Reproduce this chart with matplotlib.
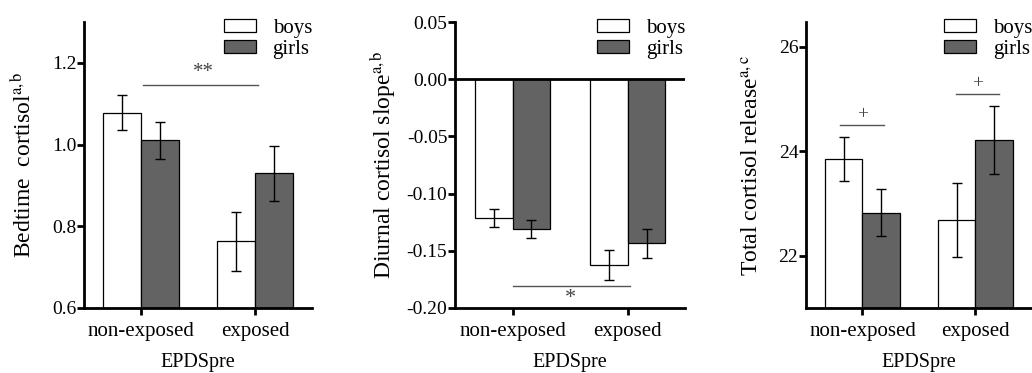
import matplotlib
matplotlib.use("Agg")
import matplotlib.pyplot as plt
import numpy as np
from matplotlib.patches import Patch

plt.rcParams['font.family'] = ['Liberation Serif', 'DejaVu Serif']
plt.rcParams['mathtext.fontset'] = 'stix'
plt.rcParams['axes.unicode_minus'] = False

groups = ["non-exposed", "exposed"]
sexes = ["boys", "girls"]

# bedtime cortisol
bed_boys = [1.078, 0.763]
bed_boys_err = [0.043, 0.072]
bed_girls = [1.010, 0.930]
bed_girls_err = [0.046, 0.067]

# diurnal slope
slope_boys = [-0.1215, -0.1625]
slope_boys_err = [0.008, 0.013]
slope_girls = [-0.131, -0.1435]
slope_girls_err = [0.008, 0.0125]

# total release
total_boys = [23.85, 22.68]
total_boys_err = [0.43, 0.71]
total_girls = [22.82, 24.22]
total_girls_err = [0.45, 0.65]

girl_col = "#636363"
xfs = 15
yfs = 14
lfs = 17

fig = plt.figure(figsize=(10.32, 3.73), dpi=100)
ax1 = fig.add_axes([0.0814, 0.1743, 0.2209, 0.7667])
ax2 = fig.add_axes([0.4409, 0.1743, 0.2229, 0.7667])
ax3 = fig.add_axes([0.781, 0.1743, 0.219, 0.7667])

x = np.arange(len(groups))
w = 0.33


def draw(ax, boys, berr, girls, gerr, bottom=0):
    bb = np.array(boys) - bottom
    gg = np.array(girls) - bottom
    ax.bar(x - w / 2, bb, w, bottom=bottom, color="white", edgecolor="black", linewidth=0.9)
    ax.bar(x + w / 2, gg, w, bottom=bottom, color=girl_col, edgecolor="black", linewidth=0.9)
    ax.errorbar(x - w / 2, boys, yerr=berr, fmt="none", ecolor="black", elinewidth=1, capsize=3.5, capthick=1)
    ax.errorbar(x + w / 2, girls, yerr=gerr, fmt="none", ecolor="black", elinewidth=1, capsize=3.5, capthick=1)
    ax.set_xlim(-0.5, 1.5)
    ax.set_xticks(x)
    ax.set_xticklabels(groups, fontsize=xfs)
    ax.set_xlabel("EPDSpre", fontsize=14.5, labelpad=9)
    for s in ["top", "right"]:
        ax.spines[s].set_visible(False)
    for s in ["left", "bottom"]:
        ax.spines[s].set_linewidth(2)
    ax.tick_params(axis="both", width=2, length=5, direction="out")
    ax.tick_params(axis="x", pad=5, labelsize=xfs)
    ax.tick_params(axis="y", pad=0.5, labelsize=yfs)
    handles = [Patch(facecolor="white", edgecolor="black", linewidth=0.9),
               Patch(facecolor=girl_col, edgecolor="black", linewidth=0.9)]
    ax.legend(handles, sexes, loc="upper right", bbox_to_anchor=(1.0, 1.012), frameon=False,
              fontsize=xfs, handlelength=1.55, handleheight=0.62, handletextpad=0.8,
              labelspacing=0.1, borderaxespad=0, borderpad=0)


# panel 1
draw(ax1, bed_boys, bed_boys_err, bed_girls, bed_girls_err, bottom=0.6)
ax1.set_ylim(0.6, 1.3)
ax1.set_yticks([0.6, 0.8, 1.0, 1.2])
ax1.set_yticklabels(["0.6", "0.8", "1.0", "1.2"])
ax1.set_ylabel(r"Bedtime  cortisol$^{\mathrm{a,b}}$", fontsize=lfs, va="center")
ax1.yaxis.set_label_coords(-0.265, 0.5)
ax1.plot([0.02, 1.03], [1.146, 1.146], color="#555555", linewidth=1)
ax1.text(0.55, 1.152, "**", ha="center", va="bottom", fontsize=15, color="#444444")

# panel 2
draw(ax2, slope_boys, slope_boys_err, slope_girls, slope_girls_err, bottom=0)
ax2.set_ylim(-0.20, 0.05)
ax2.set_yticks([0.05, 0.0, -0.05, -0.10, -0.15, -0.20])
ax2.set_yticklabels(["0.05", "0.00", "-0.05", "-0.10", "-0.15", "-0.20"])
ax2.axhline(0, color="black", linewidth=2, zorder=3)
ax2.set_ylabel(r"Diurnal cortisol slope$^{\mathrm{a,b}}$", fontsize=lfs, va="center")
ax2.yaxis.set_label_coords(-0.315, 0.5)
ax2.plot([0.0, 1.02], [-0.1807, -0.1807], color="#555555", linewidth=1)
ax2.text(0.5, -0.1835, "*", ha="center", va="top", fontsize=16, color="#444444")

# panel 3
draw(ax3, total_boys, total_boys_err, total_girls, total_girls_err, bottom=21)
ax3.set_ylim(21, 26.47)
ax3.set_yticks([22, 24, 26])
ax3.set_ylabel(r"Total cortisol release$^{\mathrm{a,c}}$", fontsize=lfs, va="center")
ax3.yaxis.set_label_coords(-0.235, 0.5)
ax3.plot([-0.2, 0.19], [24.5, 24.5], color="#555555", linewidth=1)
ax3.text(0.0, 24.53, "+", ha="center", va="bottom", fontsize=14, color="#444444")
ax3.plot([0.83, 1.21], [25.1, 25.1], color="#555555", linewidth=1)
ax3.text(1.02, 25.13, "+", ha="center", va="bottom", fontsize=14, color="#444444")

fig.savefig("out.png", dpi=100)
